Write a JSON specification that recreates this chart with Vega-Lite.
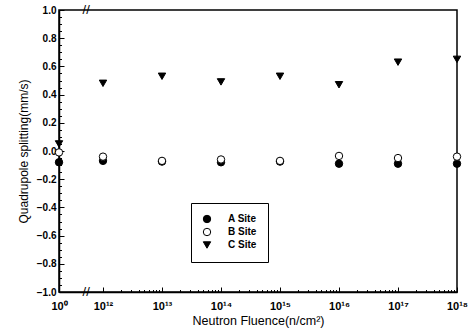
{
  "$schema": "https://vega.github.io/schema/vega-lite/v6.json",
  "width": 398,
  "height": 282,
  "autosize": {"type": "none"},
  "padding": {"left": 59, "top": 10, "right": 17, "bottom": 39},
  "background": "white",
  "config": {
    "view": {"stroke": "black", "strokeWidth": 1.5},
    "font": "Liberation Sans",
    "axis": {"labelFont": "Liberation Sans", "titleFont": "Liberation Sans", "labelColor": "black", "titleColor": "black", "domainColor": "black", "tickColor": "black", "grid": false, "titleFontWeight": "normal", "labelFontWeight": "bold", "domainWidth": 1.5, "ticks": true, "tickWidth": 1}
  },
  "datasets": {
    "pts": [
      {"exp": 0, "site": "A Site", "qs": -0.08},
      {"exp": 12, "site": "A Site", "qs": -0.07},
      {"exp": 13, "site": "A Site", "qs": -0.075},
      {"exp": 14, "site": "A Site", "qs": -0.08},
      {"exp": 15, "site": "A Site", "qs": -0.075},
      {"exp": 16, "site": "A Site", "qs": -0.09},
      {"exp": 17, "site": "A Site", "qs": -0.09},
      {"exp": 18, "site": "A Site", "qs": -0.09},
      {"exp": 0, "site": "B Site", "qs": -0.01},
      {"exp": 12, "site": "B Site", "qs": -0.04},
      {"exp": 13, "site": "B Site", "qs": -0.07},
      {"exp": 14, "site": "B Site", "qs": -0.06},
      {"exp": 15, "site": "B Site", "qs": -0.07},
      {"exp": 16, "site": "B Site", "qs": -0.035},
      {"exp": 17, "site": "B Site", "qs": -0.05},
      {"exp": 18, "site": "B Site", "qs": -0.04},
      {"exp": 0, "site": "C Site", "qs": 0.05},
      {"exp": 12, "site": "C Site", "qs": 0.48},
      {"exp": 13, "site": "C Site", "qs": 0.53},
      {"exp": 14, "site": "C Site", "qs": 0.49},
      {"exp": 15, "site": "C Site", "qs": 0.53},
      {"exp": 16, "site": "C Site", "qs": 0.47},
      {"exp": 17, "site": "C Site", "qs": 0.63},
      {"exp": 18, "site": "C Site", "qs": 0.65}
    ],
    "breaks": [
      {"exp": 7.4, "qs": 1.0},
      {"exp": 7.4, "qs": -1.0}
    ]
  },
  "encoding": {
    "x": {
      "field": "exp", "type": "quantitative",
      "scale": {"domain": [0, 12, 18], "range": [0, 44, 398], "nice": false, "zero": false},
      "axis": {
        "title": "Neutron Fluence(n/cm²)",
        "titleFontSize": 12.5,
        "titlePadding": 1,
        "labelFontSize": 11,
        "labelPadding": 13,
        "labelFlush": false,
        "labelOverlap": false,
        "values": [0, 12, 12.301, 12.477, 12.602, 12.699, 12.778, 12.845, 12.903, 12.954, 13, 13.301, 13.477, 13.602, 13.699, 13.778, 13.845, 13.903, 13.954, 14, 14.301, 14.477, 14.602, 14.699, 14.778, 14.845, 14.903, 14.954, 15, 15.301, 15.477, 15.602, 15.699, 15.778, 15.845, 15.903, 15.954, 16, 16.301, 16.477, 16.602, 16.699, 16.778, 16.845, 16.903, 16.954, 17, 17.301, 17.477, 17.602, 17.699, 17.778, 17.845, 17.903, 17.954, 18],
        "labelExpr": "datum.value == 0 ? '10⁰' : datum.value == 12 ? '10¹²' : datum.value == 13 ? '10¹³' : datum.value == 14 ? '10¹⁴' : datum.value == 15 ? '10¹⁵' : datum.value == 16 ? '10¹⁶' : datum.value == 17 ? '10¹⁷' : datum.value == 18 ? '10¹⁸' : ''",
        "tickSize": {"condition": {"test": "datum.value == round(datum.value)", "value": -5}, "value": -2.5}
      }
    },
    "y": {
      "field": "qs", "type": "quantitative",
      "scale": {"domain": [-1, 1], "nice": false, "zero": false},
      "axis": {
        "title": "Quadrupole splitting(mm/s)",
        "titleFontSize": 12,
        "titlePadding": 6,
        "labelFontSize": 10,
        "labelPadding": 8,
        "labelOverlap": false,
        "labelFlush": false,
        "values": [-1, -0.95, -0.9, -0.85, -0.8, -0.75, -0.7, -0.65, -0.6, -0.55, -0.5, -0.45, -0.4, -0.35, -0.3, -0.25, -0.2, -0.15, -0.1, -0.05, 0, 0.05, 0.1, 0.15, 0.2, 0.25, 0.3, 0.35, 0.4, 0.45, 0.5, 0.55, 0.6, 0.65, 0.7, 0.75, 0.8, 0.85, 0.9, 0.95, 1],
        "labelExpr": "abs(datum.value*5 - round(datum.value*5)) < 0.001 ? format(datum.value, '.1f') : ''",
        "tickSize": {"condition": {"test": "abs(datum.value*5 - round(datum.value*5)) < 0.001", "value": -5}, "value": -2.5}
      }
    }
  },
  "layer": [
    {
      "data": {"name": "pts"},
      "mark": {"type": "point", "filled": true, "strokeWidth": 1, "size": 55, "opacity": 1},
      "encoding": {
        "shape": {
          "field": "site", "type": "nominal",
          "scale": {"domain": ["A Site", "B Site", "C Site"], "range": ["circle", "circle", "triangle-down"]},
          "legend": {
            "title": null, "orient": "none", "legendX": 132, "legendY": 193,
            "strokeColor": "black", "fillColor": "white", "padding": 11,
            "labelFontSize": 10, "labelFont": "Liberation Sans", "labelColor": "black", "labelFontWeight": "bold",
            "symbolSize": 55, "symbolStrokeWidth": 1,
            "labelOffset": 16, "rowPadding": 1, "offset": 0
          }
        },
        "fill": {
          "field": "site", "type": "nominal",
          "scale": {"domain": ["A Site", "B Site", "C Site"], "range": ["black", "white", "black"]}
        },
        "stroke": {
          "field": "site", "type": "nominal",
          "scale": {"domain": ["A Site", "B Site", "C Site"], "range": ["black", "black", "black"]}
        }
      }
    },
    {
      "data": {"name": "breaks"},
      "mark": {"type": "text", "text": "//", "fontSize": 13, "font": "Liberation Sans", "color": "black", "baseline": "middle", "align": "center"}
    }
  ]
}
